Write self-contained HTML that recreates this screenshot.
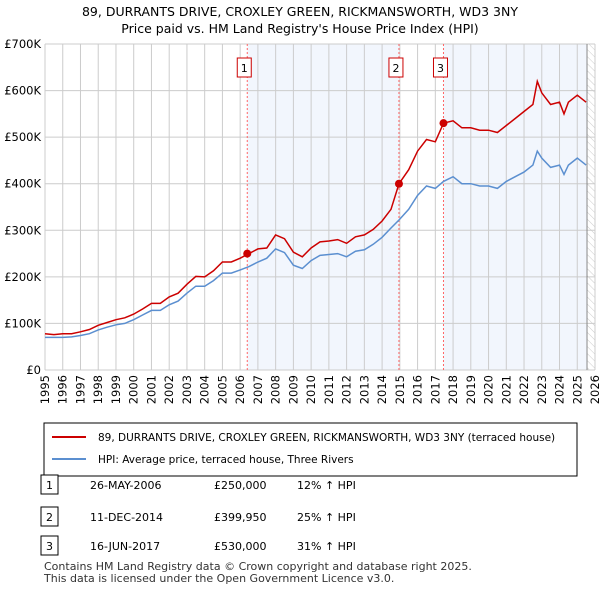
<!DOCTYPE html>
<html><head><meta charset="utf-8"><style>
body{margin:0;width:600px;height:590px;background:#fff;font-family:"Liberation Sans","DejaVu Sans",sans-serif;overflow:hidden}
svg text{font-family:"DejaVu Sans","Liberation Sans",sans-serif}
</style></head><body>
<svg id="c" width="600" height="590" xmlns="http://www.w3.org/2000/svg">
<defs><pattern id="hatch" width="5" height="5" patternUnits="userSpaceOnUse" patternTransform="rotate(-45)"><line x1="0" y1="0" x2="0" y2="5" stroke="#ccc" stroke-width="1"/></pattern></defs>
<text x="300" y="16" text-anchor="middle" font-size="12.5" fill="#000">89, DURRANTS DRIVE, CROXLEY GREEN, RICKMANSWORTH, WD3 3NY</text>
<text x="300" y="33" text-anchor="middle" font-size="12.5" fill="#000">Price paid vs. HM Land Registry's House Price Index (HPI)</text>
<g id="plot"></g>
<rect x="44" y="423" width="533" height="53" fill="#fff" stroke="#000" stroke-width="1"/>
<line x1="52" y1="437" x2="86" y2="437" stroke="#cc0000" stroke-width="2"/>
<text x="98" y="441" font-size="10.5">89, DURRANTS DRIVE, CROXLEY GREEN, RICKMANSWORTH, WD3 3NY (terraced house)</text>
<line x1="52" y1="459" x2="86" y2="459" stroke="#5b8fd0" stroke-width="2"/>
<text x="98" y="463" font-size="10.5">HPI: Average price, terraced house, Three Rivers</text>
<g font-size="11">
<rect x="41" y="475" width="17" height="19" fill="#fff" stroke="#000"/><text x="49.5" y="489" text-anchor="middle">1</text>
<text x="90" y="489">26-MAY-2006</text><text x="214" y="489">£250,000</text><text x="297" y="489">12% ↑ HPI</text>
<rect x="41" y="507" width="17" height="19" fill="#fff" stroke="#000"/><text x="49.5" y="521" text-anchor="middle">2</text>
<text x="90" y="521">11-DEC-2014</text><text x="214" y="521">£399,950</text><text x="297" y="521">25% ↑ HPI</text>
<rect x="41" y="536" width="17" height="19" fill="#fff" stroke="#000"/><text x="49.5" y="550" text-anchor="middle">3</text>
<text x="90" y="550">16-JUN-2017</text><text x="214" y="550">£530,000</text><text x="297" y="550">31% ↑ HPI</text>
</g>
<text x="44" y="570" font-size="11" fill="#333">Contains HM Land Registry data © Crown copyright and database right 2025.</text>
<text x="44" y="582" font-size="11" fill="#333">This data is licensed under the Open Government Licence v3.0.</text>
</svg>
<script>
const dates=[1995,1995.5,1996,1996.5,1997,1997.5,1998,1998.5,1999,1999.5,2000,2000.5,2001,2001.5,2002,2002.5,2003,2003.5,2004,2004.5,2005,2005.5,2006,2006.5,2007,2007.5,2008,2008.5,2009,2009.5,2010,2010.5,2011,2011.5,2012,2012.5,2013,2013.5,2014,2014.5,2014.95,2015.5,2016,2016.5,2017,2017.46,2018,2018.5,2019,2019.5,2020,2020.5,2021,2021.5,2022,2022.5,2022.75,2023,2023.5,2024,2024.25,2024.5,2025,2025.5];
const hpiValues=[70,70,70,71,74,78,86,92,97,100,108,118,128,128,140,148,165,180,180,192,208,208,215,222,232,240,260,252,225,218,235,246,248,250,243,255,258,270,285,305,322,345,375,395,390,405,415,400,400,395,395,390,405,415,425,440,470,455,435,440,420,440,455,440];
const propertyValues=[78,76,78,78,82,87,96,102,108,112,120,131,143,143,157,165,184,201,200,213,232,232,240,250,260,262,290,282,253,243,262,275,277,280,272,286,290,302,320,345,400,430,470,495,490,530,535,520,520,515,515,510,525,540,555,570,620,595,570,575,550,575,590,575];
const saleDates=[2006.4,2014.95,2017.46];
const salePrices=[250,399.95,530];
const saleLabels=["1","2","3"];
const yTicks=[0,100,200,300,400,500,600,700];
const yTickLabels=["£0","£100K","£200K","£300K","£400K","£500K","£600K","£700K"];
const xTicks=[1995,1996,1997,1998,1999,2000,2001,2002,2003,2004,2005,2006,2007,2008,2009,2010,2011,2012,2013,2014,2015,2016,2017,2018,2019,2020,2021,2022,2023,2024,2025,2026];
const dataEnd=2025.55;
const X0=45,X1=595,Y0=370,Y1=44;
const xs=d=>X0+(d-1995)/(2026-1995)*(X1-X0);
const ys=v=>Y0-v/700*(Y0-Y1);
const NS="http://www.w3.org/2000/svg";
const g=document.getElementById('plot');
function mk(t,a){const e=document.createElementNS(NS,t);for(const k in a)e.setAttribute(k,a[k]);g.appendChild(e);return e;}
let e;
e=mk('rect',{x:xs(saleDates[0]),y:Y1,width:xs(saleDates[1])-xs(saleDates[0]),height:Y0-Y1,fill:'#f2f6fd'});


e=mk('rect',{x:xs(saleDates[2]),y:Y1,width:xs(dataEnd)-xs(saleDates[2]),height:Y0-Y1,fill:'#f2f6fd'});


e=mk('rect',{x:xs(dataEnd),y:Y1,width:X1-xs(dataEnd),height:Y0-Y1,fill:'url(#hatch)'});


yTicks.forEach((v,i)=>{
 e=mk('line',{x1:X0,x2:X1,y1:ys(v),y2:ys(v),stroke:'#cccccc','stroke-width':1});
 
 
 e=mk('text',{x:X0-4,y:ys(v)+4,'text-anchor':'end','font-size':11.5});
 e.textContent=yTickLabels[i];
 
 
});
xTicks.forEach(t=>{
 e=mk('line',{x1:xs(t),x2:xs(t),y1:Y1,y2:Y0,stroke:'#cccccc','stroke-width':1});
 
 
 e=mk('text',{x:0,y:0,'font-size':11.5,'text-anchor':'end',transform:`translate(${xs(t)+4},${Y0+5}) rotate(-90)`});
 e.textContent=t;
 
 
});
e=mk('line',{x1:xs(dataEnd),x2:xs(dataEnd),y1:Y1,y2:Y0,stroke:'#888','stroke-width':1});


saleDates.forEach((d,i)=>{
 e=mk('line',{x1:xs(d),x2:xs(d),y1:Y1,y2:Y0,stroke:'#ff6666','stroke-width':1,'stroke-dasharray':'2,2'});
 
 
 e=mk('rect',{x:xs(d)-10,y:58,width:14,height:19,fill:'#fff',stroke:'#cc0000','stroke-width':1});
 
 
 e=mk('text',{x:xs(d)-3,y:72,'text-anchor':'middle','font-size':11});
 e.textContent=saleLabels[i];
 
 
});
const path=vals=>dates.map((d,i)=>(i?'L':'M')+xs(d).toFixed(1)+','+ys(vals[i]).toFixed(1)).join('');
e=mk('path',{d:path(hpiValues),fill:'none',stroke:'#5b8fd0','stroke-width':1.5});


e=mk('path',{d:path(propertyValues),fill:'none',stroke:'#cc0000','stroke-width':1.5});


saleDates.forEach((d,i)=>{
 e=mk('circle',{cx:xs(d),cy:ys(salePrices[i]),r:4,fill:'#cc0000'});
 
 
});
</script>
</body></html>
